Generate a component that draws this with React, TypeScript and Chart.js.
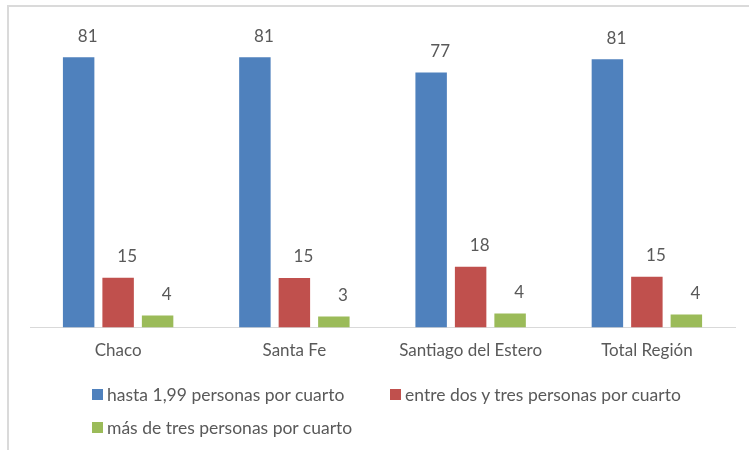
import React, { useEffect, useRef } from "react";
import { Chart, registerables } from "chart.js";

Chart.register(...registerables);

const categories = ["Chaco", "Santa Fe", "Santiago del Estero", "Total Región"];
const seriesNames = [
  "hasta 1,99 personas por cuarto",
  "entre dos y tres personas por cuarto",
  "más de tres personas por cuarto",
];
const hastaValues = [81.2, 81.2, 76.6, 80.6];
const entreValues = [15.0, 14.9, 18.3, 15.3];
const masValues = [3.6, 3.3, 4.2, 3.9];
const seriesColors = ["#4f81bd", "#c0504d", "#9bbb59"];

const FONT = "Lato, 'Open Sans', sans-serif";
const FONT_SIZE = 17;
const LEGEND_FONT_SIZE = 17.5;
const TEXT_COLOR = "#595959";

const valueLabels = {
  id: "valueLabels",
  afterDatasetsDraw(chart: any) {
    const ctx = chart.ctx;
    ctx.save();
    ctx.font = `${FONT_SIZE}px ${FONT}`;
    ctx.fillStyle = TEXT_COLOR;
    ctx.textAlign = "center";
    ctx.textBaseline = "middle";
    chart.data.datasets.forEach((ds: any, i: number) => {
      const meta = chart.getDatasetMeta(i);
      meta.data.forEach((bar: any, j: number) => {
        const v = ds.data[j];
        ctx.fillText(String(Math.round(v)), bar.x + 9, bar.y - 21);
      });
    });
    ctx.restore();
  },
};

export default function App() {
  const ref = useRef<HTMLCanvasElement | null>(null);

  useEffect(() => {
    if (!ref.current) return;
    const data = [hastaValues, entreValues, masValues];
    const chart = new Chart(ref.current, {
      type: "bar",
      data: {
        labels: categories,
        datasets: seriesNames.map((name, i) => ({
          label: name,
          data: data[i],
          backgroundColor: seriesColors[i],
          categoryPercentage: 0.672,
          barPercentage: 0.797,
        })),
      },
      options: {
        responsive: false,
        animation: false,
        devicePixelRatio: 1,
        layout: { padding: { left: 30, right: 14, top: 28, bottom: 76 } },
        plugins: {
          legend: { display: false },
          tooltip: { enabled: false },
        },
        scales: {
          x: {
            grid: { display: false, drawTicks: false },
            border: { display: true, color: "#d9d9d9", width: 1 },
            ticks: {
              color: TEXT_COLOR,
              font: { family: FONT, size: FONT_SIZE },
              padding: 13,
            },
          },
          y: { display: false, min: 0, max: 90 },
        },
      },
      plugins: [valueLabels],
    });
    return () => chart.destroy();
  }, []);

  return (
    <div
      style={{
        position: "absolute",
        left: 0,
        top: 0,
        width: 749,
        height: 450,
        overflow: "hidden",
        background: "#ffffff",
      }}
    >
      <div
        style={{
          position: "absolute",
          left: 7,
          top: 5,
          width: 760,
          height: 460,
          borderTop: "2px solid #dadada",
          borderLeft: "2px solid #dadada",
          boxSizing: "border-box",
        }}
      />
      <canvas
        ref={ref}
        width={749}
        height={450}
        style={{ position: "absolute", left: 0, top: 0, width: 749, height: 450 }}
      />
      <div
        style={{
          position: "absolute",
          left: 92,
          top: 378,
          display: "grid",
          gridTemplateColumns: "298px auto",
          gridAutoRows: "33px",
          fontFamily: FONT,
          fontSize: LEGEND_FONT_SIZE,
          color: TEXT_COLOR,
        }}
      >
        {seriesNames.map((name, i) => (
          <div key={name} style={{ display: "flex", alignItems: "center", whiteSpace: "nowrap" }}>
            <span
              style={{
                display: "inline-block",
                width: 11,
                height: 11,
                background: seriesColors[i],
                marginRight: 4,
                flexShrink: 0,
              }}
            />
            <span>{name}</span>
          </div>
        ))}
      </div>
    </div>
  );
}
